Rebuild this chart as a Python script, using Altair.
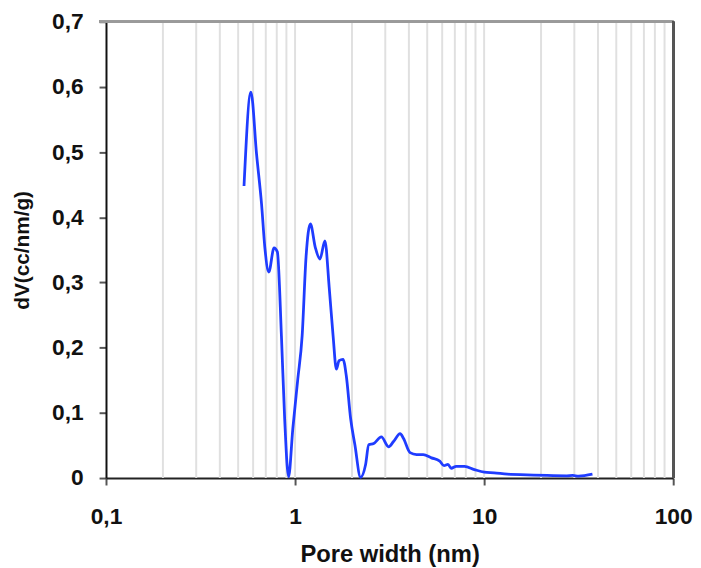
import altair as alt
import pandas as pd

pore_width = [0.537, 0.584, 0.626, 0.665, 0.692, 0.726, 0.774, 0.806, 0.847, 0.881,
              0.924, 0.973, 1.034, 1.090, 1.143, 1.205, 1.279, 1.354, 1.438, 1.515,
              1.589, 1.654, 1.709, 1.793, 1.866, 1.968, 2.072, 2.221, 2.358, 2.453,
              2.606, 2.860, 3.123, 3.317, 3.596, 3.742, 4.056, 4.393, 4.762, 5.263,
              5.824, 6.135, 6.438, 6.699, 7.115, 7.872, 8.882, 10.02, 11.30, 13.27,
              16.89, 21.50, 27.35, 29.4, 31.6, 37.4]
dv = [0.448, 0.592, 0.496, 0.420, 0.354, 0.316, 0.353, 0.347, 0.218, 0.091,
      0.002, 0.076, 0.152, 0.218, 0.339, 0.390, 0.354, 0.336, 0.364, 0.293,
      0.218, 0.167, 0.180, 0.182, 0.157, 0.091, 0.051, 0.001, 0.020, 0.051,
      0.053, 0.063, 0.048, 0.056, 0.068, 0.061, 0.039, 0.036, 0.036, 0.031,
      0.026, 0.019, 0.021, 0.015, 0.018, 0.018, 0.013, 0.009, 0.008, 0.006,
      0.005, 0.004, 0.0035, 0.004, 0.003, 0.006]

x_ticks = [0.1, 1, 10, 100]
y_ticks = [0, 0.1, 0.2, 0.3, 0.4, 0.5, 0.6, 0.7]
grid_x = [0.2, 0.3, 0.4, 0.5, 0.6, 0.7, 0.8, 0.9, 1,
          2, 3, 4, 5, 6, 7, 8, 9, 10,
          20, 30, 40, 50, 60, 70, 80, 90]

W, H = 573, 461
FONT = "Liberation Sans"

df = pd.DataFrame({"x": pore_width, "y": dv})
grid_df = pd.DataFrame({"x": grid_x})

xscale = alt.Scale(type="log", domain=[0.1, 100])
yscale = alt.Scale(domain=[0, 0.7])

xaxis = alt.Axis(title="Pore width (nm)", values=x_ticks, grid=False,
                 labelExpr="datum.value < 0.5 ? '0,1' : format(datum.value, 'd')",
                 tickSize=7, tickWidth=2, tickColor="#555555",
                 domainColor="#222222", domainWidth=2,
                 labelFont=FONT, labelFontWeight="bold", labelFontSize=23,
                 labelColor="#111111", labelPadding=21, labelFlush=False,
                 titleFont=FONT, titleFontWeight="bold", titleFontSize=24,
                 titleColor="#111111", titlePadding=14)
yaxis = alt.Axis(title="dV(cc/nm/g)", values=y_ticks, grid=False,
                 labelExpr="datum.value == 0 ? '0' : replace(format(datum.value, '.1f'), '.', ',')",
                 tickSize=7, tickWidth=2, tickColor="#555555",
                 domainColor="#111111", domainWidth=2,
                 labelFont=FONT, labelFontWeight="bold", labelFontSize=23,
                 labelColor="#111111", labelPadding=16,
                 titleFont=FONT, titleFontWeight="bold", titleFontSize=21,
                 titleColor="#111111", titlePadding=19)

grid = alt.Chart(grid_df).mark_rule(color="#e0e0e0", strokeWidth=2).encode(
    x=alt.X("x:Q", scale=xscale, axis=xaxis)
)

top = alt.Chart(grid_df).mark_rule(color="#9a9a9a", strokeWidth=2).encode(
    x=alt.value(-7), x2=alt.value(W), y=alt.value(0)
)
right = alt.Chart(grid_df).mark_rule(color="#555555", strokeWidth=2).encode(
    x=alt.value(W), y=alt.value(0), y2=alt.value(H)
)

line = alt.Chart(df).mark_line(color="#1f3cff", strokeWidth=2.8, interpolate="monotone").encode(
    x=alt.X("x:Q", scale=xscale, axis=xaxis),
    y=alt.Y("y:Q", scale=yscale, axis=yaxis),
)

chart = alt.layer(grid, top, right, line).properties(
    width=W, height=H,
    autosize=alt.AutoSizeParams(type="none"),
    padding={"left": 99, "top": 11, "right": 20, "bottom": 88},
).configure_view(stroke=None).configure(background="white")

chart.save("out.html", embed_options={"renderer": "svg", "actions": False})
